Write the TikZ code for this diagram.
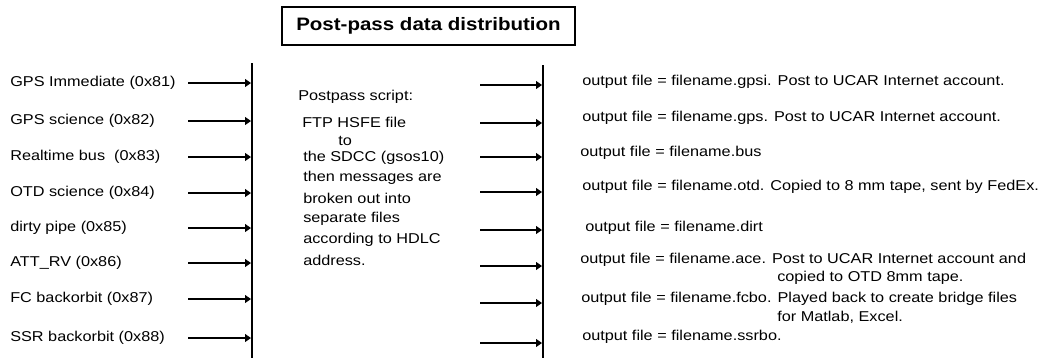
\documentclass[tikz,border=0pt]{standalone}
\usepackage{fontspec}
\setmainfont[FakeStretch=1.14]{Liberation Sans}
\usetikzlibrary{arrows.meta}

\begin{document}
\begin{tikzpicture}[x=0.75pt,y=-0.75pt]

    % --- Global Settings ---
    \tikzset{
        chanlabel/.style={anchor=west, inner sep=0pt, font=\fontsize{10.7}{12}\selectfont},
        feedarrow/.style={-{Triangle[length=4.5pt,width=6pt]}, line width=0.8pt},
        busline/.style={line width=1.1pt},
        titlebox/.style={draw, line width=1.5pt, minimum width=219.75pt, minimum height=28.5pt,
            inner sep=0pt, font=\fontsize{13.5}{16}\selectfont\bfseries}
    }
    \useasboundingbox (0,0) rectangle (1046,358);

    % --- Title ---
    \node[titlebox] (title) at (428.5,26) {Post-pass data distribution};

    % --- Vertical bars ---
    \coordinate (bartopL) at (252,63);  \coordinate (barbotL) at (252,358);
    \coordinate (bartopR) at (543,65);  \coordinate (barbotR) at (543,358);
    \draw[busline] (bartopL) -- (barbotL);
    \draw[busline] (bartopR) -- (barbotR);

    % --- Left: HDLC channels ---
    \foreach \y/\txt [count=\i] in {83/GPS Immediate (0x81), 121/GPS science (0x82),
            157/Realtime bus\ \ (0x83), 193/OTD science (0x84), 228/dirty pipe (0x85),
            263/ATT\_RV (0x86), 299/FC backorbit (0x87), 338/SSR backorbit (0x88)} {
        \node[chanlabel] (chan\i) at (10,\y) {\txt};
        \coordinate (in\i) at (188,\y);
        \coordinate (bus\i) at (251,\y);
        \draw[feedarrow] (in\i) -- (bus\i);
    }

    % --- Middle: postpass script ---
    \foreach \x/\y/\txt [count=\k] in {298/97/Postpass script:, 302/122/FTP HSFE file,
            338/141/to, 303/158/the SDCC (gsos10), 303/178/then messages are,
            303/198/broken out into, 303/219/separate files,
            303/240/according to HDLC, 303/260/address.} {
        \node[chanlabel] (script\k) at (\x,\y) {\txt};
    }

    % --- Right: output arrows ---
    \foreach \y [count=\i] in {85,123,157,192,230,266,303,343} {
        \coordinate (src\i) at (480,\y);
        \coordinate (dst\i) at (542,\y);
        \draw[feedarrow] (src\i) -- (dst\i);
    }

    % --- Right: output files ---
    \foreach \x/\y/\txt [count=\k] in {
            582/82/{output file = filename.gpsi. Post to UCAR Internet account.},
            582/118/{output file = filename.gps. Post to UCAR Internet account.},
            580/153/{output file = filename.bus},
            582/187/{output file = filename.otd. Copied to 8 mm tape, sent by FedEx.},
            585/228/{output file = filename.dirt},
            580/260/{output file = filename.ace. Post to UCAR Internet account and},
            777/278/{copied to OTD 8mm tape.},
            581/299/{output file = filename.fcbo. Played back to create bridge files},
            777/317/{for Matlab, Excel.},
            582/337/{output file = filename.ssrbo.}} {
        \node[chanlabel] (out\k) at (\x,\y) {\txt};
    }

\end{tikzpicture}
\end{document}
